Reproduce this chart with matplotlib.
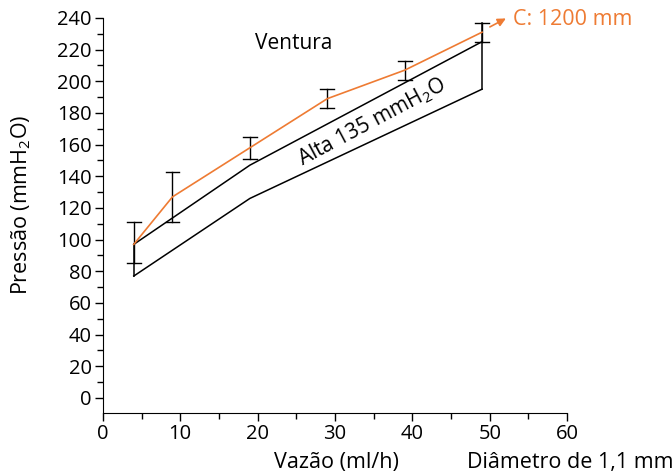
import matplotlib.pyplot as plt
import numpy as np

plt.rcParams['font.family'] = ['Open Sans', 'DejaVu Sans']
plt.rcParams['mathtext.fontset'] = 'custom'
plt.rcParams['mathtext.rm'] = 'Open Sans'
plt.rcParams['mathtext.it'] = 'Open Sans'

# measured pressure (orange) with error bars
vazao = [4, 9, 19, 29, 39, 49]
pressao = [97, 127, 158, 189, 207, 231]
err_top = [111, 143, 165, 195, 213, 237]
err_bot = [85, 111, 151, 183, 201, 225]

# band limits (black lines)
upper_x = [4, 19, 49]
upper_y = [97, 147, 225]
lower_x = [4, 19, 49]
lower_y = [77, 126, 195]

orange = "#EE7B33"

fig = plt.figure(figsize=(6.72, 4.72), dpi=100)
ax = fig.add_axes([0.153, 0.125, 0.691, 0.837])

ax.plot(upper_x, upper_y, color="black", lw=1.1)
ax.plot(lower_x, lower_y, color="black", lw=1.1)
# closing verticals of the band
ax.plot([lower_x[0], upper_x[0]], [lower_y[0], upper_y[0]], color="black", lw=1.1)
ax.plot([lower_x[-1], lower_x[-1]], [lower_y[-1], err_top[-1]], color="black", lw=1.1)

for x, t, b in zip(vazao, err_top, err_bot):
    ax.plot([x, x], [b, t], color="black", lw=1.0)
    ax.plot([x - 0.9, x + 0.9], [t, t], color="black", lw=1.0)
    ax.plot([x - 0.9, x + 0.9], [b, b], color="black", lw=1.0)

ax.plot(vazao, pressao, color=orange, lw=1.2)
ax.annotate("", xy=(52.4, 240.5), xytext=(49.7, 233.5),
            arrowprops=dict(arrowstyle="-|>", color=orange, lw=1.2, mutation_scale=12),
            annotation_clip=False)
ax.text(53.0, 239, "C: 1200 mm", color=orange, fontsize=15.5, va="center", ha="left", clip_on=False)

ax.text(24.6, 224, "Ventura", fontsize=15, ha="center", va="center")
ax.text(34.8, 174, "Alta 135 mmH$_2$O", fontsize=15, ha="center", va="center", rotation=28)

ax.set_xlim(0, 60)
ax.set_ylim(-9.5, 240)
ax.set_xticks(np.arange(0, 61, 10))
ax.set_xticks(np.arange(0, 61, 5), minor=True)
ax.set_yticks(np.arange(0, 241, 20))
ax.set_yticks(np.arange(0, 241, 10), minor=True)
ax.tick_params(axis="both", which="major", labelsize=14.5, length=6, width=1.0, pad=2)
ax.tick_params(axis="both", which="minor", length=4, width=1.0)

ax.spines["top"].set_visible(False)
ax.spines["right"].set_visible(False)
ax.spines["left"].set_bounds(-9.5, 240)

fig.text(0.032, 0.566, "Pressão (mmH$_2$O)", rotation=90, fontsize=15.5, ha="center", va="center")
fig.text(0.5, 0.008, "Vazão (ml/h)", fontsize=15.5, ha="center", va="baseline")
fig.text(0.695, 0.008, "Diâmetro de 1,1 mm", fontsize=15.5, ha="left", va="baseline")

fig.savefig("out.png", dpi=100)
